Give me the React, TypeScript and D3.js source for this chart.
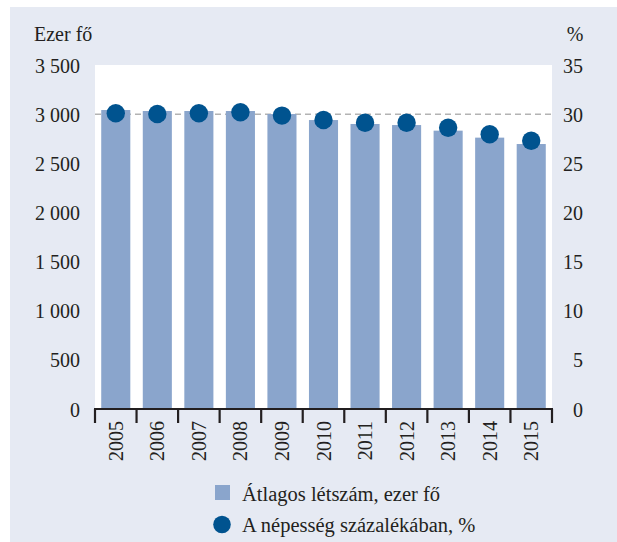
import React from "react";
import * as d3 from "d3";

const years = ["2005","2006","2007","2008","2009","2010","2011","2012","2013","2014","2015"];
const headcount = [3042, 3032, 3032, 3032, 3001, 2940, 2900, 2889, 2832, 2761, 2696];
const percent = [30.09, 30.01, 30.09, 30.19, 29.85, 29.4, 29.13, 29.13, 28.62, 27.95, 27.3];
const leftTicks = [0, 500, 1000, 1500, 2000, 2500, 3000, 3500];
const rightTicks = [0, 5, 10, 15, 20, 25, 30, 35];
const leftTitle = "Ezer fő";
const rightTitle = "%";
const legendBar = "Átlagos létszám, ezer fő";
const legendDot = "A népesség százalékában, %";

const fmt = (v: number) => {
  const s = String(v);
  return s.length > 3 ? s.slice(0, s.length - 3) + " " + s.slice(-3) : s;
};

export default function App() {
  const W = 617, H = 542;
  const plot = { x0: 95, x1: 552, y0: 65, y1: 409 };
  const x = d3.scaleBand<string>().domain(years).range([plot.x0, plot.x1]).paddingInner(0.3).paddingOuter(0.15);
  const xb = d3.scaleBand<string>().domain(years).range([plot.x0, plot.x1]);
  const yL = d3.scaleLinear().domain([0, 3500]).range([plot.y1, plot.y0]);
  const yR = d3.scaleLinear().domain([0, 35]).range([plot.y1, plot.y0]);
  const font = "'Liberation Serif', 'Times New Roman', serif";
  const txt = "#231f20";
  const barColor = "#8aa5cc";
  const dotColor = "#00538f";
  const tickBounds = [...years.map((y) => xb(y)!), plot.x1];

  return (
    <svg width={W} height={H} style={{ position: "absolute", left: 0, top: 0, display: "block" }} fontFamily={font}>
      <rect x={0} y={0} width={W} height={H} fill="#ffffff" />
      <rect x={10} y={7} width={W - 10} height={H - 7} fill="#e6eaf3" />
      <rect x={plot.x0} y={plot.y0} width={plot.x1 - plot.x0} height={plot.y1 - plot.y0} fill="#ffffff" />
      <line x1={plot.x0} x2={plot.x1} y1={yL(3000)} y2={yL(3000)} stroke="#b3b3b3" strokeWidth={1.5} strokeDasharray="6,4" />
      {years.map((yr, i) => (
        <rect key={yr} x={x(yr)!} y={yL(headcount[i])} width={x.bandwidth()} height={yL(0) - yL(headcount[i])} fill={barColor} />
      ))}
      {years.map((yr, i) => (
        <circle key={yr} cx={xb(yr)! + xb.bandwidth() / 2} cy={yR(percent[i])} r={9.2} fill={dotColor} />
      ))}
      <line x1={plot.x0 - 1} x2={plot.x1 + 1} y1={plot.y1} y2={plot.y1} stroke={txt} strokeWidth={2.2} />
      {tickBounds.map((tx, i) => (
        <line key={i} x1={tx} x2={tx} y1={plot.y1} y2={plot.y1 + 14} stroke={txt} strokeWidth={2.2} />
      ))}
      {leftTicks.map((t) => (
        <text key={t} x={80} y={yL(t) + 7.5} textAnchor="end" fontSize={20} fill={txt}>{fmt(t)}</text>
      ))}
      {rightTicks.map((t) => (
        <text key={t} x={583} y={yR(t) + 7.5} textAnchor="end" fontSize={20} fill={txt}>{t}</text>
      ))}
      <text x={34} y={41} fontSize={20} fill={txt}>{leftTitle}</text>
      <text x={575} y={41} fontSize={20} fill={txt} textAnchor="middle">{rightTitle}</text>
      {years.map((yr) => (
        <text key={yr} transform={`translate(${xb(yr)! + xb.bandwidth() / 2},421) rotate(-90)`} textAnchor="end" dy="0.35em" fontSize={20} fill={txt}>{yr}</text>
      ))}
      <rect x={215} y={485} width={15} height={15} fill={barColor} />
      <text x={242} y={500.5} fontSize={20.5} fill={txt}>{legendBar}</text>
      <circle cx={222} cy={524.5} r={8.8} fill={dotColor} />
      <text x={242} y={531.5} fontSize={20.5} fill={txt}>{legendDot}</text>
    </svg>
  );
}
